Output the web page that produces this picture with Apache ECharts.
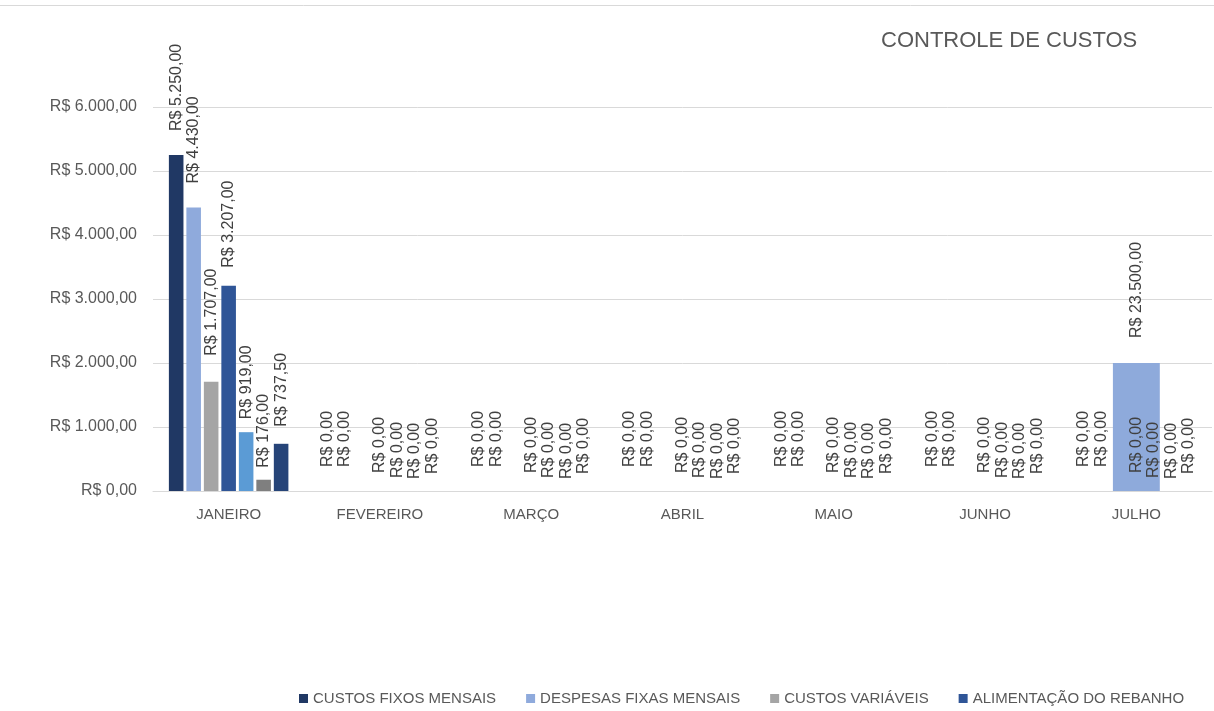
<!DOCTYPE html>
<html>
<head>
<meta charset="utf-8">
<script src="https://cdn.jsdelivr.net/npm/echarts@6/dist/echarts.min.js"></script>
<style>
html,body{margin:0;padding:0;background:#fff;}
#chart{width:1214px;height:711px;}
</style>
</head>
<body>
<div id="chart"></div>
<script>
const months = ['JANEIRO','FEVEREIRO','MARÇO','ABRIL','MAIO','JUNHO','JULHO'];
const custosFixos      = [5250, 0, 0, 0, 0, 0, 0];
const despesasFixas    = [4430, 0, 0, 0, 0, 0, 0];
const custosVariaveis  = [1707, null, null, null, null, null, null];
const alimentacao      = [3207, 0, 0, 0, 0, 0, 0];
const serie5           = [919, 0, 0, 0, 0, 0, 0];
const serie6           = [176, 0, 0, 0, 0, 0, 0];
const serie7           = [737.5, 0, 0, 0, 0, 0, 0];
const serieSecundaria  = [null, null, null, null, null, null, 23500];
const yTicks = [0, 1000, 2000, 3000, 4000, 5000, 6000];

const FONT = '"Liberation Sans", Arial, sans-serif';

function brl(v) {
  const neg = v < 0;
  v = Math.abs(v);
  const parts = v.toFixed(2).split('.');
  const intPart = parts[0].replace(/\B(?=(\d{3})+(?!\d))/g, '.');
  return (neg ? '-' : '') + intPart + ',' + parts[1];
}

function mkSeries(name, data, color, dist, axis) {
  return {
    name: name,
    type: 'bar',
    data: data,
    xAxisIndex: axis || 0,
    yAxisIndex: axis || 0,
    barGap: '20%',
    barCategoryGap: axis ? '69%' : '21%',
    itemStyle: { color: color },
    label: {
      show: true,
      position: 'top',
      rotate: 90,
      align: 'left',
      verticalAlign: 'middle',
      distance: dist,
      color: '#404040',
      fontSize: 16,
      fontFamily: FONT,
      formatter: p => 'R$ ' + brl(p.value)
    }
  };
}

const chart = echarts.init(document.getElementById('chart'), null, { renderer: 'canvas' });
chart.setOption({
  backgroundColor: '#ffffff',
  animation: false,
  title: {
    text: 'CONTROLE DE CUSTOS',
    left: 876,
    top: 25,
    textStyle: { fontSize: 22, fontWeight: 'normal', color: '#595959', fontFamily: FONT }
  },
  graphic: [{
    type: 'line',
    shape: { x1: 0, y1: 5.5, x2: 1214, y2: 5.5 },
    style: { stroke: '#d9d9d9', lineWidth: 1 }
  }],
  legend: {
    data: ['CUSTOS FIXOS MENSAIS', 'DESPESAS FIXAS MENSAIS', 'CUSTOS VARIÁVEIS', 'ALIMENTAÇÃO DO REBANHO'],
    left: 294,
    top: 686,
    icon: 'rect',
    itemWidth: 9,
    itemHeight: 9,
    itemGap: 30,
    textStyle: { fontSize: 15, color: '#595959', fontFamily: FONT }
  },
  grid: { left: 153, right: 2, top: 107, bottom: 220 },
  xAxis: [{
    type: 'category',
    data: months,
    axisLine: { show: true, lineStyle: { color: '#d9d9d9' } },
    axisTick: { show: false },
    axisLabel: { color: '#595959', fontSize: 15, fontFamily: FONT, margin: 16 }
  }, {
    type: 'category',
    data: months,
    show: false
  }],
  yAxis: [{
    type: 'value',
    min: yTicks[0],
    max: yTicks[yTicks.length - 1],
    interval: 1000,
    axisLine: { show: false },
    axisTick: { show: false },
    splitLine: { lineStyle: { color: '#d9d9d9' } },
    axisLabel: { color: '#595959', fontSize: 16, fontFamily: FONT, margin: 16,
      formatter: v => 'R$ ' + brl(v) }
  }, {
    type: 'value',
    min: 0,
    max: 70500,
    show: false,
    splitLine: { show: false }
  }],
  series: [
    mkSeries('CUSTOS FIXOS MENSAIS', custosFixos, '#203864', 24),
    mkSeries('DESPESAS FIXAS MENSAIS', despesasFixas, '#8faadc', 24),
    mkSeries('CUSTOS VARIÁVEIS', custosVariaveis, '#a5a5a5', 26),
    mkSeries('ALIMENTAÇÃO DO REBANHO', alimentacao, '#2f5597', 18),
    mkSeries('SÉRIE 5', serie5, '#5b9bd5', 13),
    mkSeries('SÉRIE 6', serie6, '#7f7f7f', 12),
    mkSeries('SÉRIE 7', serie7, '#264478', 17),
    mkSeries('SÉRIE 8', serieSecundaria, '#8eaadb', 25, 1)
  ]
});
</script>
</body>
</html>
